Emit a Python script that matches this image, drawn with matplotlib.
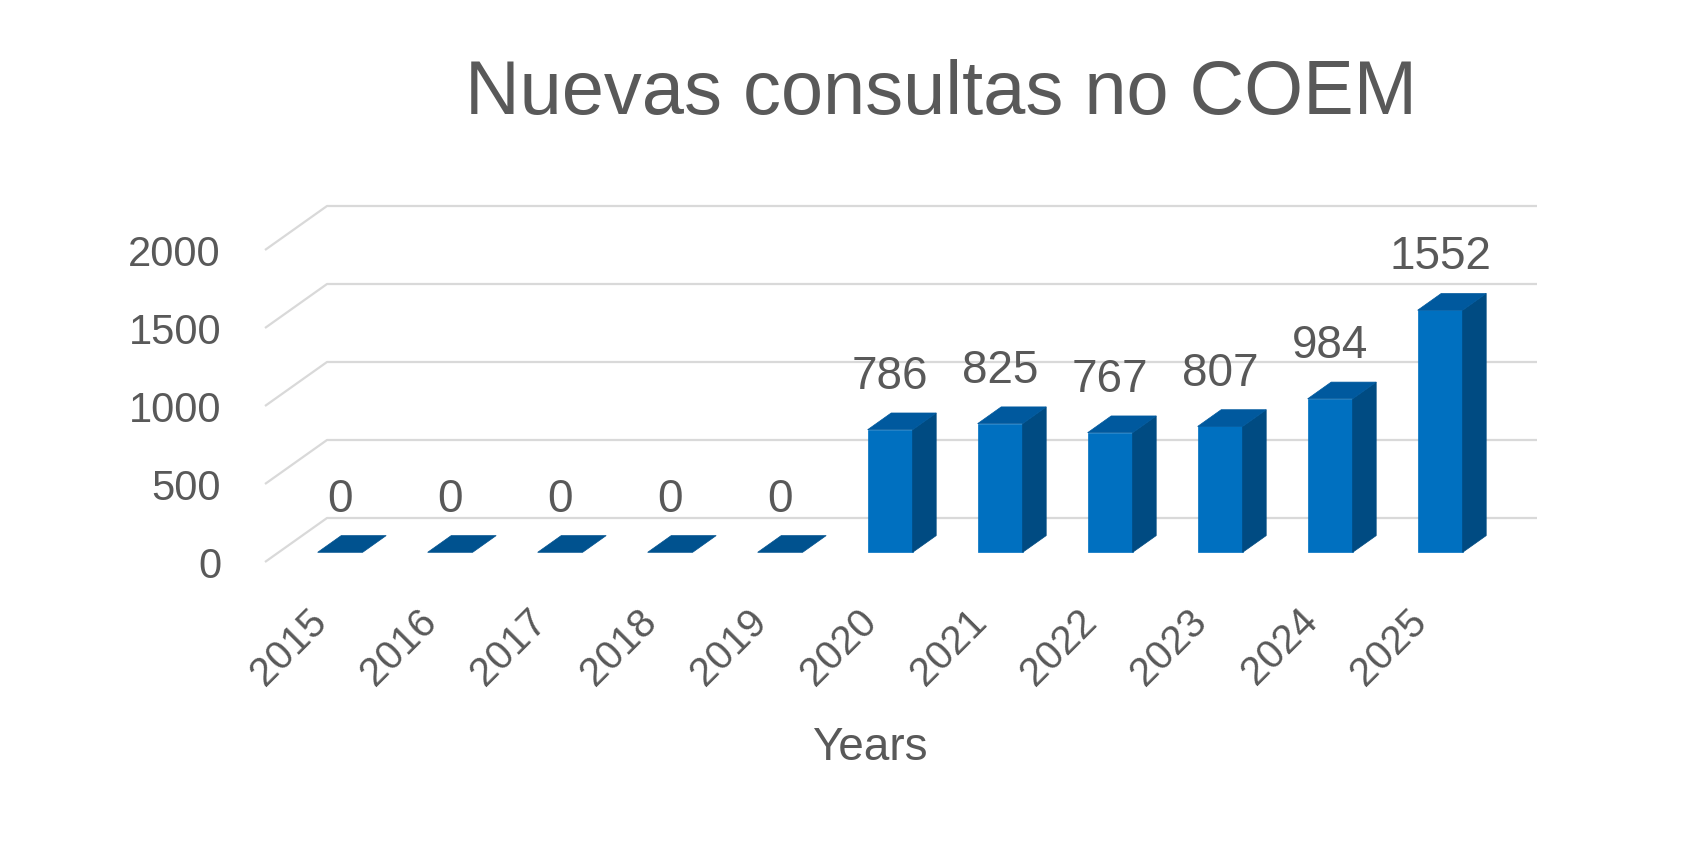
import matplotlib
matplotlib.use("Agg")
import matplotlib.pyplot as plt
from matplotlib.patches import Polygon, Rectangle
from matplotlib.transforms import ScaledTranslation

# ---- data ----
years = ["2015", "2016", "2017", "2018", "2019", "2020", "2021", "2022", "2023", "2024", "2025"]
values = [0, 0, 0, 0, 0, 786, 825, 767, 807, 984, 1552]
y_ticks = [0, 500, 1000, 1500, 2000]
title = "Nuevas consultas no COEM"
x_label = "Years"

# ---- style ----
plt.rcParams['font.family'] = ['Liberation Sans', 'DejaVu Sans']
TXT = "#595959"
GRID = "#D9D9D9"
C_FRONT = "#0070C0"
C_SIDE = "#004B82"
C_TOP = "#00599E"
C_FLAT = "#00528F"

W, H = 1696, 846
fig = plt.figure(figsize=(W / 100, H / 100), dpi=100)

# axes = front plane of the 3D box (pixel extents)
left_px, right_px = 265, 1475
bottom_px, top_px = 562, 250
ax = fig.add_axes([left_px / W, (H - bottom_px) / H,
                   (right_px - left_px) / W, (bottom_px - top_px) / H])
slot_px = 110.0
x0 = -(326.5 - left_px) / slot_px
ax.set_xlim(x0, x0 + (right_px - left_px) / slot_px)
ax.set_ylim(0, 2000)
px_per_val = (bottom_px - top_px) / 2000.0

# depth vector (front edge -> back wall) in data units
DX = 62 / slot_px
DY = 44 / px_per_val
d_front, d_back = 0.22, 0.60
bar_w = 45 / slot_px

for s in ax.spines.values():
    s.set_visible(False)
ax.set_facecolor("none")

# gridlines (left diagonal wall + back wall)
xl, xr = ax.get_xlim()
for v in y_ticks:
    ax.plot([xl, xl + DX, xr + DX], [v, v + DY, v + DY], color=GRID, lw=1.6,
            clip_on=False, zorder=1, solid_capstyle='butt')

# bars
for i, v in enumerate(values):
    bx = i - bar_w / 2 + d_front * DX
    by = d_front * DY
    ddx = (d_back - d_front) * DX
    ddy = (d_back - d_front) * DY
    top = [(bx, by + v), (bx + bar_w, by + v), (bx + bar_w + ddx, by + v + ddy), (bx + ddx, by + v + ddy)]
    if v == 0:
        ax.add_patch(Polygon(top, closed=True, facecolor=C_FLAT, edgecolor=C_FLAT, lw=0.5,
                             clip_on=False, zorder=3))
    else:
        ax.add_patch(Rectangle((bx, by), bar_w, v, facecolor=C_FRONT, edgecolor=C_FRONT, lw=0.5,
                               clip_on=False, zorder=3))
        side = [(bx + bar_w, by), (bx + bar_w + ddx, by + ddy), (bx + bar_w + ddx, by + ddy + v), (bx + bar_w, by + v)]
        ax.add_patch(Polygon(side, closed=True, facecolor=C_SIDE, edgecolor=C_SIDE, lw=0.5,
                             clip_on=False, zorder=3))
        ax.add_patch(Polygon(top, closed=True, facecolor=C_TOP, edgecolor=C_TOP, lw=0.5,
                             clip_on=False, zorder=4))
    ax.annotate(str(v), xy=(i + d_front * DX, v + d_back * DY), xytext=(0, 36 * 0.72),
                textcoords="offset points", ha="center", va="center",
                fontsize=33, color=TXT, annotation_clip=False, zorder=5)

# ticks
ax.set_yticks(y_ticks)
ax.set_yticklabels([str(t) for t in y_ticks])
ax.set_xticks(range(len(years)))
ax.set_xticklabels(years, rotation=45, ha="right", va="top")
ax.tick_params(axis="y", length=0, pad=44 * 0.72, labelsize=30, labelcolor=TXT)
ax.tick_params(axis="x", length=0, pad=40 * 0.72, labelsize=29, labelcolor=TXT)
shift = ScaledTranslation(8 / 100, 0, fig.dpi_scale_trans)
for lab in ax.get_xticklabels():
    lab.set_transform(lab.get_transform() + shift)

ax.set_xlabel(x_label, fontsize=33, color=TXT, va="baseline")
ax.xaxis.set_label_coords(0.5, (bottom_px - 760) / (bottom_px - top_px))

fig.text(941 / W, (H - 114) / H, title, ha="center", va="baseline", fontsize=54.5, color=TXT)

fig.savefig("out.png", dpi=100, facecolor="white")
